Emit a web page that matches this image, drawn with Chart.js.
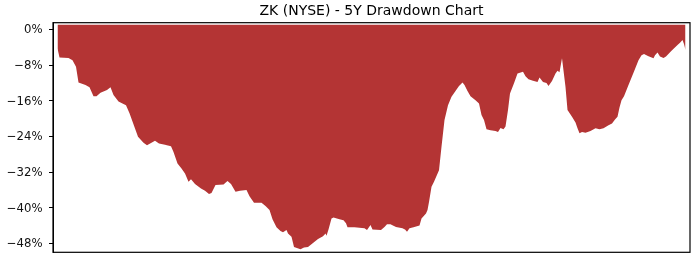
<!DOCTYPE html>
<html>
<head>
<meta charset="utf-8">
<script src="https://cdn.jsdelivr.net/npm/chart.js@4/dist/chart.umd.min.js"></script>
<style>
  html, body { margin: 0; padding: 0; background: #fff; }
  #wrap { width: 700px; height: 280px; }
</style>
</head>
<body>
<div id="wrap"><canvas id="c" width="700" height="280"></canvas></div>
<script>
// Trading-day index since start of the 5Y window
const days = [0,4,22,30,37,42,56,64,72,78,86,99,106,112,122,137,144,161,172,179,195,203,215,227,232,240,248,255,262,267,275,287,295,303,308,316,332,340,347,356,365,378,384,393,408,416,424,430,438,446,451,458,461,468,473,486,493,501,511,521,531,536,538,542,548,552,564,572,577,580,594,614,619,626,630,647,654,659,666,677,690,695,699,704,712,724,728,737,740,743,748,753,763,768,774,781,788,796,803,810,814,820,826,836,843,848,853,858,866,876,881,886,892,896,901,905,913,920,931,936,942,951,960,964,971,978,982,989,996,1000,1004,1009,1016,1020,1029,1036,1040,1044,1049,1056,1066,1076,1084,1092,1102,1109,1115,1120,1124,1128,1133,1142,1152,1162,1168,1173,1182,1192,1195,1200,1205,1212,1217,1228,1240,1245,1250,1253,1256];
// Drawdown (%) from running peak
const drawdown = [-4.3,-6.3,-6.4,-6.9,-8.4,-11.9,-12.5,-13.0,-15.0,-15.0,-14.2,-13.6,-13.0,-14.7,-16.2,-17.0,-18.8,-24.1,-25.4,-26.0,-25.0,-25.6,-25.9,-26.2,-27.5,-30.1,-31.2,-32.3,-34.2,-33.6,-34.7,-35.7,-36.2,-36.9,-36.7,-34.9,-34.8,-34.0,-34.7,-36.4,-36.2,-36.0,-37.4,-38.9,-38.9,-39.6,-40.5,-42.6,-44.4,-45.2,-45.5,-45.0,-45.8,-46.5,-48.8,-49.3,-48.9,-48.8,-47.9,-47.0,-46.4,-45.8,-46.3,-44.9,-42.4,-42.2,-42.6,-42.8,-43.5,-44.4,-44.4,-44.6,-45.0,-43.9,-44.9,-45.0,-44.3,-43.7,-43.7,-44.3,-44.6,-44.9,-45.4,-44.6,-44.4,-44.0,-42.4,-41.3,-40.5,-38.7,-35.3,-34.2,-31.6,-26.3,-20.3,-17.0,-15.1,-13.8,-12.7,-11.9,-12.5,-13.8,-15.0,-15.9,-16.6,-19.2,-20.3,-22.4,-22.6,-22.8,-23.0,-22.1,-22.4,-21.8,-18.1,-14.4,-12.1,-9.9,-9.5,-10.5,-11.2,-11.5,-11.8,-10.8,-11.8,-12.0,-12.7,-11.6,-9.9,-9.3,-9.6,-6.5,-12.9,-18.1,-19.6,-20.9,-22.2,-23.3,-23.0,-23.2,-22.8,-22.2,-22.4,-22.2,-21.5,-21.1,-20.2,-19.6,-17.5,-15.9,-15.0,-12.5,-9.7,-6.9,-5.8,-5.5,-6.0,-6.5,-5.8,-5.2,-6.1,-6.4,-6.1,-4.8,-3.5,-3.0,-2.4,-3.3,-4.6];
const yTicks = [0, -8, -16, -24, -32, -40, -48];
const titleText = 'ZK (NYSE) - 5Y Drawdown Chart';

const points = days.map((d, i) => ({ x: d, y: drawdown[i] }));

const frame = {
  id: 'frame',
  afterDatasetsDraw(chart) {
    const a = chart.chartArea, ctx = chart.ctx;
    ctx.save();
    ctx.strokeStyle = '#000';
    ctx.lineWidth = 1.2;
    ctx.strokeRect(a.left, a.top, a.right - a.left, a.bottom - a.top);
    ctx.restore();
  }
};

new Chart(document.getElementById('c'), {
  type: 'line',
  data: {
    datasets: [{
      data: points,
      borderWidth: 0,
      borderColor: 'rgba(0,0,0,0)',
      backgroundColor: 'rgb(180,52,52)',
      pointRadius: 0,
      tension: 0,
      fill: { value: 1.05 }
    }]
  },
  options: {
    responsive: false,
    animation: false,
    devicePixelRatio: 1,
    layout: { padding: { left: 0, right: 10, top: 0, bottom: 27.7 } },
    plugins: {
      legend: { display: false },
      tooltip: { enabled: false },
      title: {
        display: true,
        text: titleText,
        fullSize: false,
        color: '#000',
        font: { family: 'DejaVu Sans', size: 14, weight: 'normal', lineHeight: 1.2 },
        padding: { top: 2.6, bottom: 3.3 }
      }
    },
    scales: {
      x: {
        type: 'linear',
        min: -9,
        max: 1265,
        display: false
      },
      y: {
        type: 'linear',
        min: -50.0,
        max: 1.5,
        afterFit(scale) { scale.width = 53; },
        afterBuildTicks(scale) { scale.ticks = yTicks.map(v => ({ value: v })); },
        border: { display: true, color: '#000', width: 1 },
        grid: { drawOnChartArea: false, drawTicks: true, tickLength: 4, color: '#000' },
        ticks: {
          padding: 6.5,
          labelOffset: 1,
          color: '#111',
          font: { family: 'DejaVu Sans', size: 11.7 },
          callback: v => (v < 0 ? '\u2212' + Math.abs(v) : String(v)) + '%'
        }
      }
    }
  },
  plugins: [frame]
});
</script>
</body>
</html>
